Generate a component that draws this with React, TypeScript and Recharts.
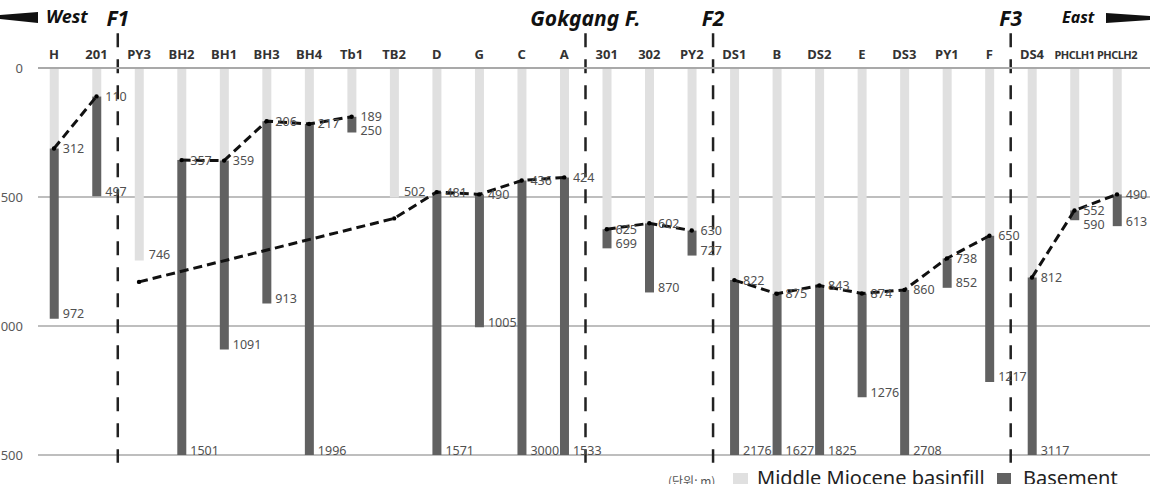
import React from "react";
import {
  ComposedChart,
  Bar,
  Line,
  XAxis,
  YAxis,
  CartesianGrid,
  ReferenceLine,
  LabelList,
  Legend,
} from "recharts";

// boreholes, west -> east
const stations = [
  "H", "201", "PY3", "BH2", "BH1", "BH3", "BH4", "Tb1", "TB2", "D", "G", "C", "A",
  "301", "302", "PY2", "DS1", "B", "DS2", "E", "DS3", "PY1", "F", "DS4", "PHCLH1", "PHCLH2",
];

// depth (m) to top of basement = thickness of the Middle Miocene basinfill
const basinfillDepth = [
  312, 110, 746, 357, 359, 206, 217, 189, 502, 481, 490, 436, 424,
  625, 602, 630, 822, 875, 843, 874, 860, 738, 650, 812, 552, 490,
];

// deepest drilled depth inside the basement (null = basement not reached)
const basementBottom = [
  972, 497, null, 1501, 1091, 913, 1996, 250, null, 1571, 1005, 3000, 1533,
  699, 870, 727, 2176, 1627, 1825, 1276, 2708, 852, 1217, 3117, 590, 613,
];

// interpreted basement surface, one array per fault block
const westProfile: [string, number][] = [["H", 312], ["201", 110]];
const upperProfile: [string, number][] = [["BH2", 357], ["BH1", 359], ["BH3", 206], ["BH4", 217], ["Tb1", 189]];
const lowerProfile: [string, number][] = [["PY3", 829], ["TB2", 583], ["D", 481], ["G", 490], ["C", 436], ["A", 424]];
const middleProfile: [string, number][] = [["301", 625], ["302", 602], ["PY2", 630]];
const eastProfile: [string, number][] = [["DS1", 822], ["B", 875], ["DS2", 843], ["E", 874], ["DS3", 860], ["PY1", 738], ["F", 650]];
const farEastProfile: [string, number][] = [["DS4", 812], ["PHCLH1", 552], ["PHCLH2", 490]];

// faults sit halfway between two boreholes
const faults = [
  { at: 1.5, name: "F1" },
  { at: 12.5, name: "Gokgang F." },
  { at: 15.5, name: "F2" },
  { at: 22.5, name: "F3" },
];

const depthTicks = [0, 500, 1000, 1500];
const DEPTH_MAX = 1500;

const LIGHT = "#e0e0e0";
const DARK = "#616161";

const profiles = [
  { key: "west", points: westProfile, bridge: false },
  { key: "upper", points: upperProfile, bridge: false },
  { key: "lower", points: lowerProfile, bridge: true },
  { key: "middle", points: middleProfile, bridge: false },
  { key: "east", points: eastProfile, bridge: false },
  { key: "farEast", points: farEastProfile, bridge: false },
];

const table = stations.map((name, idx) => {
  const bottom = basementBottom[idx];
  const row: Record<string, number | string | null> = {
    idx,
    name,
    basinfill: basinfillDepth[idx],
    basement: bottom == null ? null : bottom - basinfillDepth[idx],
  };
  profiles.forEach((p) => {
    const hit = p.points.find(([s]) => s === name);
    row[p.key] = hit ? hit[1] : null;
  });
  return row;
});

const valueText = { fontSize: 12.5, fill: "#505050" };

function boxOf(props: any) {
  const vb = props.viewBox ?? props;
  const y0 = Math.min(vb.y, vb.y + vb.height);
  const y1 = Math.max(vb.y, vb.y + vb.height);
  return { x: vb.x, w: vb.width, y0, y1 };
}

/** top / bottom depth labels beside the basement bar (value = station idx) */
function BasementLabel(props: any) {
  const i = Number(props.value);
  const top = basinfillDepth[i];
  const bottom = basementBottom[i];
  if (bottom == null || top == null) return null;
  // recharts already clamps the rect to the plot, so y1 is the visible end
  const { x, w, y0, y1 } = boxOf(props);
  const lx = x + w + 4;
  const by = Math.max(y1 - 5, y0 + 14);
  return (
    <g>
      <text x={lx} y={y0} dominantBaseline="central" {...valueText}>{top}</text>
      <text x={lx} y={by} dominantBaseline="central" {...valueText}>{bottom}</text>
    </g>
  );
}

/** label for wells that never reached the basement */
function BasinfillLabel(props: any) {
  const i = Number(props.value);
  if (basementBottom[i] != null) return null;
  const { x, w, y1 } = boxOf(props);
  return (
    <text x={x + w + 5} y={y1 - 6} dominantBaseline="central" {...valueText}>
      {basinfillDepth[i]}
    </text>
  );
}

function StationTick({ x, y, payload }: any) {
  const name = stations[payload.value];
  const small = name.length > 4;
  return (
    <text
      x={x}
      y={y}
      textAnchor="middle"
      fontSize={small ? 11 : 13}
      fontWeight={700}
      letterSpacing={small ? -0.5 : 0}
      fill="#333"
    >
      {name}
    </text>
  );
}

function LegendBox() {
  return (
    <div style={{ position: "relative", width: 1150, height: 484, fontFamily: "'Noto Sans', sans-serif" }}>
      <span style={{ position: "absolute", left: 668, top: 472, fontSize: 12, color: "#555", fontFamily: "'Noto Sans CJK KR', sans-serif", whiteSpace: "nowrap" }}>
        (단위: m)
      </span>
      <span style={{ position: "absolute", left: 733, top: 473, width: 15, height: 15, background: LIGHT }} />
      <span style={{ position: "absolute", left: 757, top: 466, fontSize: 20, lineHeight: "24px", color: "#222", whiteSpace: "nowrap" }}>
        Middle Miocene basinfill
      </span>
      <span style={{ position: "absolute", left: 997, top: 473, width: 14, height: 14, background: DARK }} />
      <span style={{ position: "absolute", left: 1023, top: 466, fontSize: 20, lineHeight: "24px", color: "#222", whiteSpace: "nowrap" }}>
        Basement
      </span>
    </div>
  );
}

export default function App() {
  return (
    <div style={{ position: "absolute", left: 0, top: 0, width: 1150, height: 484, fontFamily: "'Noto Sans', sans-serif", background: "#fff", overflow: "hidden" }}>
      <ComposedChart width={1150} height={484} data={table} margin={{ top: 0, right: 0, bottom: 29, left: 0 }}>
        <CartesianGrid vertical={false} stroke="#a9a9a9" strokeWidth={1.5} />
        <XAxis
          type="number"
          dataKey="idx"
          orientation="top"
          domain={[-0.3763, 25.776]}
          allowDataOverflow
          ticks={stations.map((_, i) => i)}
          interval={0}
          height={68}
          tickSize={0}
          tickMargin={9}
          tickLine={false}
          axisLine={{ stroke: "#a9a9a9", strokeWidth: 2 }}
          tick={<StationTick />}
        />
        <YAxis
          type="number"
          reversed
          domain={[0, DEPTH_MAX]}
          allowDataOverflow
          ticks={depthTicks}
          width={38}
          tickSize={0}
          tickMargin={15}
          axisLine={false}
          tickLine={false}
          tick={{ fill: "#595959", fontSize: 13 }}
        />
        <Bar dataKey="basinfill" stackId="well" fill={LIGHT} barSize={9} isAnimationActive={false}>
          <LabelList dataKey="idx" content={BasinfillLabel} />
        </Bar>
        <Bar dataKey="basement" stackId="well" fill={DARK} barSize={9} isAnimationActive={false}>
          <LabelList dataKey="idx" content={BasementLabel} />
        </Bar>
        {profiles.map((p) => (
          <Line
            key={p.key}
            dataKey={p.key}
            type="linear"
            stroke="#111"
            strokeWidth={3}
            strokeDasharray="9 5"
            dot={{ r: 2.2, fill: "#000", stroke: "#000", strokeWidth: 0 }}
            activeDot={false}
            connectNulls={p.bridge}
            legendType="none"
            isAnimationActive={false}
          />
        ))}
        {faults.map((f) => (
          <ReferenceLine
            key={f.name}
            segment={[{ x: f.at, y: -135 }, { x: f.at, y: 1530 }]}
            ifOverflow="visible"
            stroke="#222"
            strokeWidth={2.5}
            strokeDasharray="14 12"
            label={(lp: any) => {
              const vb = lp.viewBox;
              return (
                <text
                  x={vb.x + (vb.width || 0) / 2}
                  y={vb.y - 7}
                  textAnchor="middle"
                  fontSize={21}
                  fontWeight={700}
                  fontStyle="italic"
                  fill="#111"
                >
                  {f.name}
                </text>
              );
            }}
          />
        ))}
        <Legend
          layout="horizontal"
          verticalAlign="middle"
          align="center"
          wrapperStyle={{ left: 0, top: 0, width: 1150, height: 484, pointerEvents: "none" }}
          content={() => <LegendBox />}
        />
      </ComposedChart>
      <svg width={1150} height={40} style={{ position: "absolute", left: 0, top: 0, pointerEvents: "none" }}>
        <polygon points="0,15 38,12 38,23 0,19" fill="#111" />
        <text x={46} y={23} fontSize={18} fontWeight={700} fontStyle="italic" fill="#111">West</text>
        <text x={1062} y={23} fontSize={16} fontWeight={700} fontStyle="italic" fill="#111">East</text>
        <polygon points="1106,13 1150,16 1150,20 1106,23" fill="#111" />
      </svg>
    </div>
  );
}
